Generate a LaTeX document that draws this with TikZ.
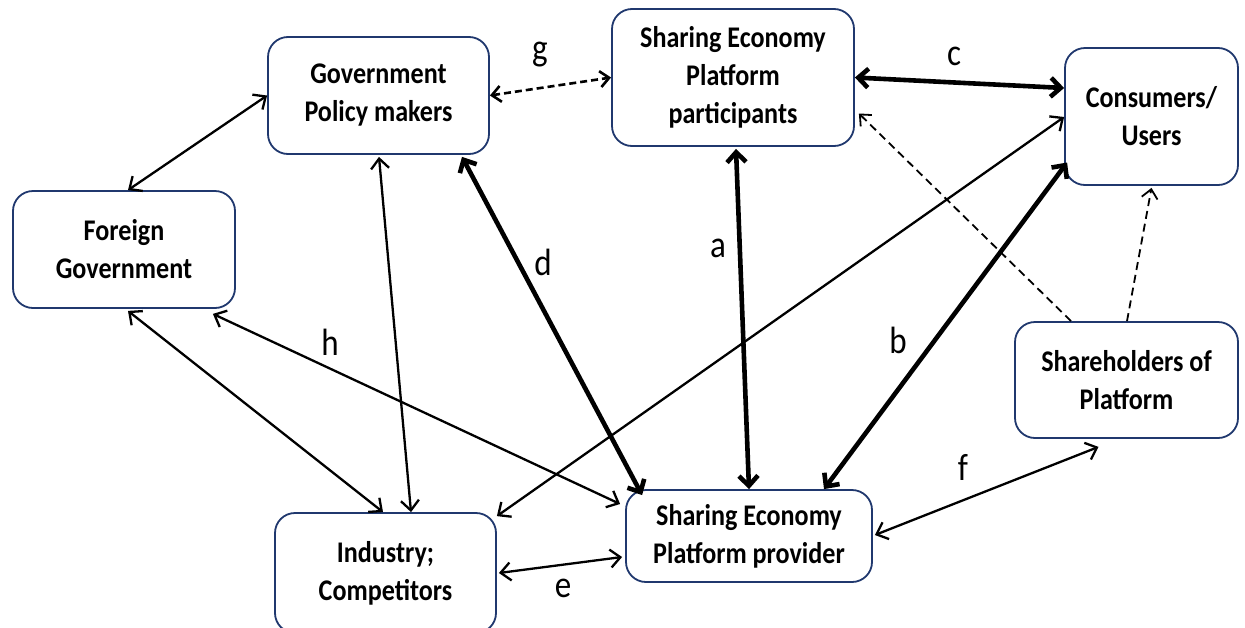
\documentclass[tikz,border=0pt]{standalone}
\usepackage{fontspec}
\setmainfont{Carlito}
\newfontfamily\boxfont[FakeStretch=0.87]{Carlito}
\usetikzlibrary{arrows.meta}
\definecolor{boxline}{RGB}{32,56,110}
\tikzset{
  box/.style={draw=boxline, line width=1.8pt, rounded corners=20pt, fill=white,
    align=center, inner sep=0pt, font=\boxfont\fontsize{30}{38}\selectfont\bfseries},
  thinarr/.style={line width=2.3pt, {Straight Barb[length=10pt,width=18pt]}-{Straight Barb[length=10pt,width=18pt]}},
  thickarr/.style={line width=4.6pt, {Straight Barb[length=10pt,width=19pt]}-{Straight Barb[length=10pt,width=19pt]}},
  dasharr/.style={line width=2.6pt, dash pattern=on 7pt off 4pt, {Straight Barb[length=9pt,width=16pt]}-{Straight Barb[length=9pt,width=16pt]}},
  dashthin/.style={line width=1.8pt, dash pattern=on 8pt off 5pt, -{Straight Barb[length=9pt,width=16pt]}},
  lbl/.style={font=\boxfont\fontsize{38}{40}\selectfont, inner sep=0pt}
}
\begin{document}
\begin{tikzpicture}[x=1pt,y=-1pt]
\useasboundingbox (0,0) rectangle (1245,627);
\fill[white] (0,0) rectangle (1245,627);
\begin{scope}
\clip (0,0) rectangle (1245,627);
\node[box, minimum width=221pt, minimum height=117pt] (gov) at (378.5,95.5) {Government\\Policy makers};
\node[box, minimum width=242pt, minimum height=137pt] (part) at (733,77.5) {Sharing Economy\\Platform\\participants};
\node[box, minimum width=173pt, minimum height=137pt] (cons) at (1151.5,116.5) {Consumers/\\Users};
\node[box, minimum width=222pt, minimum height=117pt] (for) at (124,249.5) {Foreign\\Government};
\node[box, minimum width=223pt, minimum height=116pt] (share) at (1126.5,380) {Shareholders of\\Platform};
\node[box, minimum width=246pt, minimum height=92pt] (prov) at (749,536) {Sharing Economy\\Platform provider};
\node[box, minimum width=221pt, minimum height=120pt] (ind) at (385.5,573) {Industry;\\Competitors};

% connectors
\draw[thinarr] (gov.west) -- ([xshift=4pt]for.north);
\draw[dasharr] (gov.east) -- (part.west);
\draw[thickarr] (part.east) -- ([yshift=28.5pt]cons.west);
\draw[dashthin] ([xshift=-55.5pt]share.north) -- ([xshift=4pt,yshift=-36pt]part.east);
\draw[dashthin] ([xshift=0.5pt]share.north) -- ([yshift=-2pt]cons.south);
\draw[thickarr] ([xshift=3pt,yshift=-2pt]part.south) -- (prov.north);
\draw[thickarr] ([xshift=83.5pt,yshift=-2pt]gov.south) -- ([xshift=17pt,yshift=-6pt]prov.north west);
\draw[thinarr] ([xshift=0.5pt,yshift=-2pt]gov.south) -- ([xshift=25.5pt]ind.north);
\draw[thinarr] ([xshift=4pt,yshift=-2pt]for.south) -- ([xshift=-2.5pt]ind.north);
\draw[thinarr] ([xshift=-23pt,yshift=-5pt]for.south east) -- ([xshift=-5pt,yshift=32pt]prov.west);
\draw[thinarr] ([yshift=-0.5pt]cons.west) -- ([yshift=-4pt]ind.north east);
\draw[thickarr] ([xshift=3pt,yshift=-46pt]cons.west) -- ([xshift=75pt]prov.north);
\draw[thinarr] ([xshift=2pt]ind.east) -- ([xshift=-3pt,yshift=-21pt]prov.west);
\draw[thinarr] ([xshift=2pt,yshift=1pt]prov.east) -- ([xshift=-28pt,yshift=-8pt]share.south);

% labels
\node[lbl] (lg) at (540,55) {g};
\node[lbl] (lc) at (954,56) {c};
\node[lbl] (la) at (718,248) {a};
\node[lbl] (ld) at (543,262) {d};
\node[lbl] (lh) at (330,342) {h};
\node[lbl] (lb) at (898,340) {b};
\node[lbl] (le) at (563,588) {e};
\node[lbl] (lf) at (963,467) {f};
\end{scope}
\end{tikzpicture}
\end{document}
